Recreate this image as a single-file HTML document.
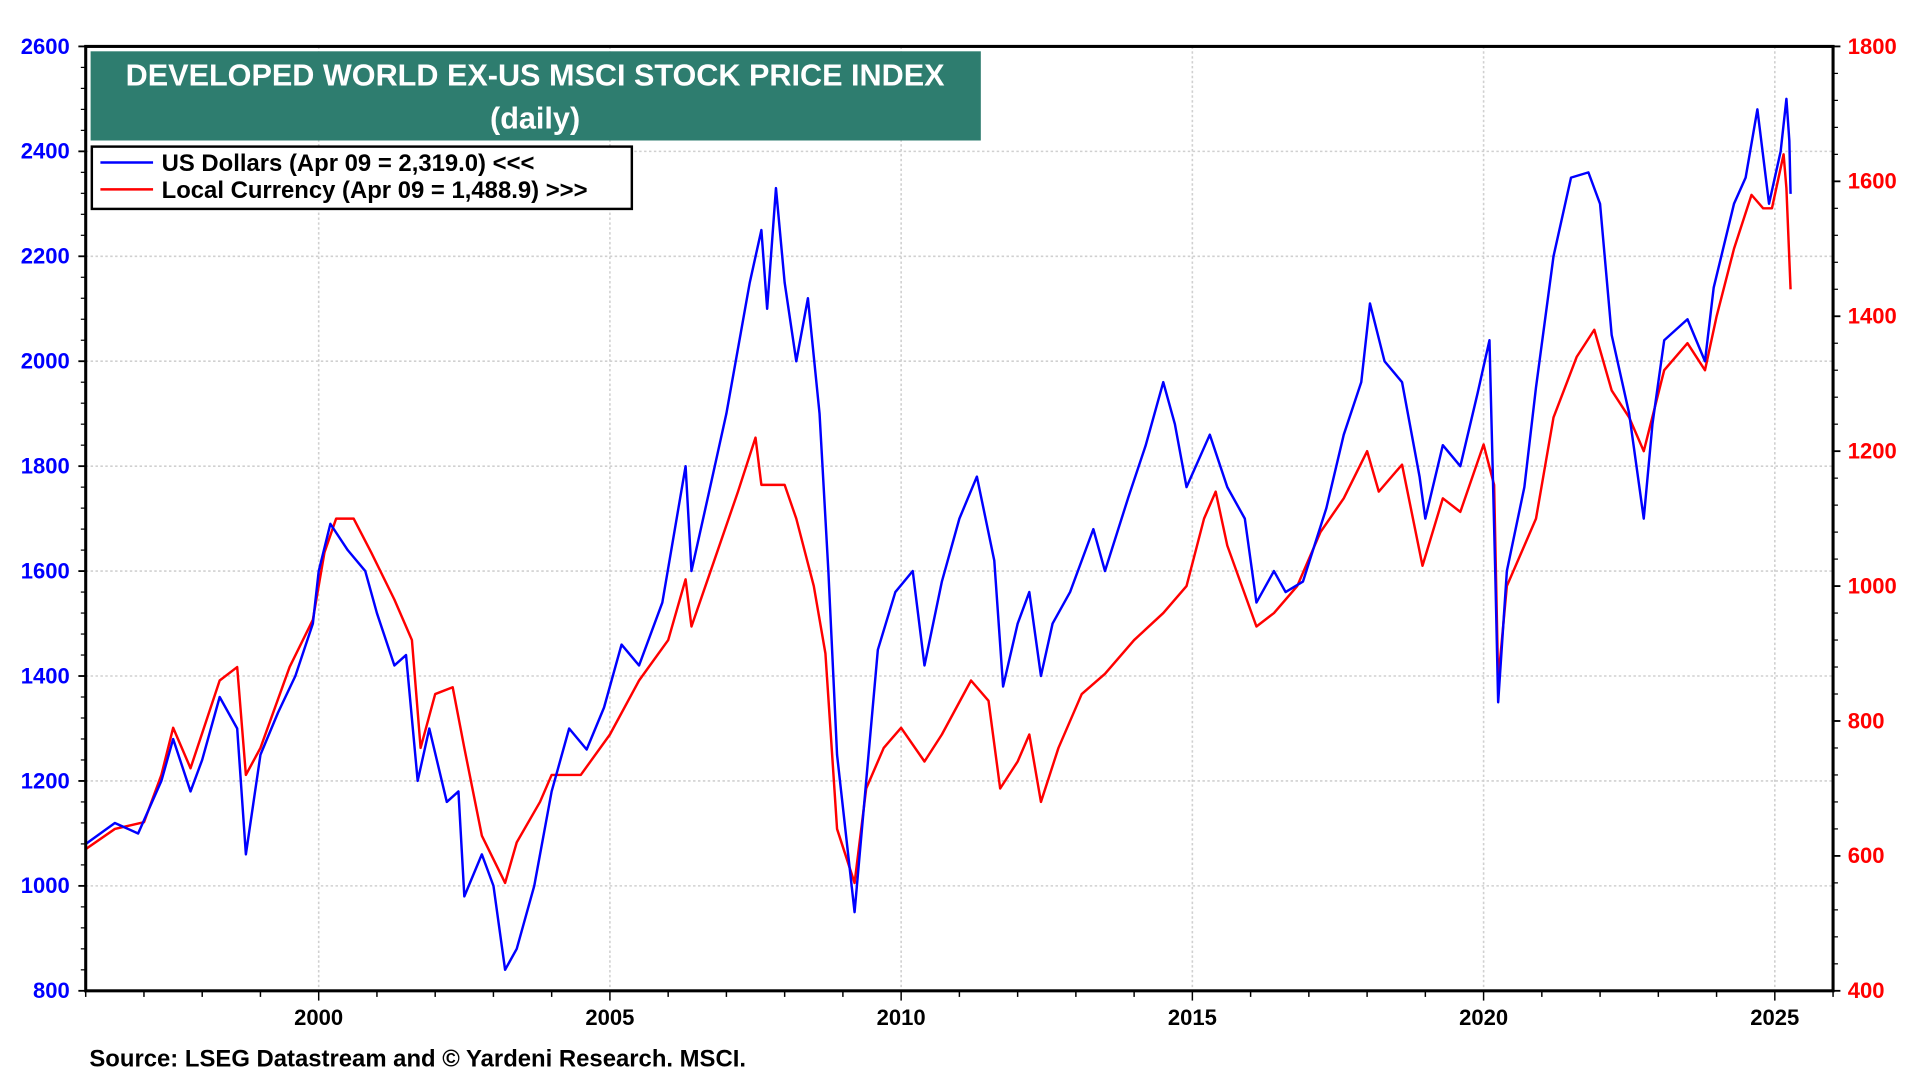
<!DOCTYPE html>
<html><head><meta charset="utf-8"><style>
html,body{margin:0;padding:0;background:#fff;}
svg{display:block;font-family:"Liberation Sans",Arial,sans-serif;}
</style></head><body>
<svg id="chart" width="1920" height="1080" viewBox="0 0 1568 884" preserveAspectRatio="none" xmlns="http://www.w3.org/2000/svg">
<g id="grid"></g>
<g id="series"></g>
<rect x="70" y="38" width="1427" height="773" fill="none" stroke="#000" stroke-width="2.5"/>
<g id="axes"></g>
<rect x="74" y="42" width="727" height="73" fill="#2e7d6f"/>
<text x="437" y="70" text-anchor="middle" fill="#fff" font-size="25" font-weight="bold">DEVELOPED WORLD EX-US MSCI STOCK PRICE INDEX</text>
<text x="437" y="105" text-anchor="middle" fill="#fff" font-size="25" font-weight="bold">(daily)</text>
<g>
<rect x="75" y="120" width="441" height="51" fill="#fff" stroke="#000" stroke-width="2"/>
<line x1="82" y1="133" x2="125" y2="133" stroke="#0000ff" stroke-width="2"/>
<text x="132" y="140" font-size="19.5" font-weight="bold">US Dollars (Apr 09 = 2,319.0) &lt;&lt;&lt;</text>
<line x1="82" y1="155" x2="125" y2="155" stroke="#ff0000" stroke-width="2"/>
<text x="132" y="162" font-size="19.5" font-weight="bold">Local Currency (Apr 09 = 1,488.9) &gt;&gt;&gt;</text>
</g>
<text x="73" y="873" font-size="19.5" font-weight="bold">Source: LSEG Datastream and © Yardeni Research. MSCI.</text>
</svg>
<script>
const usdDates=[1996.0,1996.5,1996.9,1997.3,1997.5,1997.8,1998.0,1998.3,1998.6,1998.75,1999.0,1999.3,1999.6,1999.9,2000.0,2000.2,2000.5,2000.8,2001.0,2001.3,2001.5,2001.7,2001.9,2002.2,2002.4,2002.5,2002.8,2003.0,2003.2,2003.4,2003.7,2004.0,2004.3,2004.6,2004.9,2005.2,2005.5,2005.9,2006.3,2006.4,2006.7,2007.0,2007.4,2007.6,2007.7,2007.85,2008.0,2008.2,2008.4,2008.6,2008.75,2008.9,2009.2,2009.4,2009.6,2009.9,2010.2,2010.4,2010.7,2011.0,2011.3,2011.6,2011.75,2012.0,2012.2,2012.4,2012.6,2012.9,2013.3,2013.5,2013.9,2014.2,2014.5,2014.7,2014.9,2015.3,2015.6,2015.9,2016.1,2016.4,2016.6,2016.9,2017.3,2017.6,2017.9,2018.05,2018.3,2018.6,2018.9,2019.0,2019.3,2019.6,2019.9,2020.1,2020.2,2020.25,2020.4,2020.7,2020.9,2021.2,2021.5,2021.8,2022.0,2022.2,2022.5,2022.75,2022.9,2023.1,2023.5,2023.8,2023.95,2024.3,2024.5,2024.7,2024.9,2025.1,2025.2,2025.25,2025.27];
const usdValues=[1080,1120,1100,1200,1280,1180,1240,1360,1300,1060,1250,1330,1400,1500,1600,1690,1640,1600,1520,1420,1440,1200,1300,1160,1180,980,1060,1000,840,880,1000,1180,1300,1260,1340,1460,1420,1540,1800,1600,1750,1900,2150,2250,2100,2330,2150,2000,2120,1900,1600,1250,950,1200,1450,1560,1600,1420,1580,1700,1780,1620,1380,1500,1560,1400,1500,1560,1680,1600,1740,1840,1960,1880,1760,1860,1760,1700,1540,1600,1560,1580,1720,1860,1960,2110,2000,1960,1780,1700,1840,1800,1940,2040,1600,1350,1600,1760,1950,2200,2350,2360,2300,2050,1900,1700,1880,2040,2080,2000,2140,2300,2350,2480,2300,2400,2500,2420,2319];
const localDates=[1996.0,1996.5,1997.0,1997.3,1997.5,1997.8,1998.3,1998.6,1998.75,1999.0,1999.5,1999.9,2000.1,2000.3,2000.6,2000.9,2001.3,2001.6,2001.75,2002.0,2002.3,2002.5,2002.8,2003.2,2003.4,2003.8,2004.0,2004.5,2005.0,2005.5,2006.0,2006.3,2006.4,2006.8,2007.2,2007.5,2007.6,2008.0,2008.2,2008.5,2008.7,2008.9,2009.2,2009.4,2009.7,2010.0,2010.4,2010.7,2011.2,2011.5,2011.7,2012.0,2012.2,2012.4,2012.7,2013.1,2013.5,2014.0,2014.5,2014.9,2015.2,2015.4,2015.6,2016.1,2016.4,2016.8,2017.2,2017.6,2018.0,2018.2,2018.6,2018.95,2019.3,2019.6,2020.0,2020.18,2020.25,2020.4,2020.7,2020.9,2021.2,2021.6,2021.9,2022.2,2022.5,2022.75,2023.1,2023.5,2023.8,2024.0,2024.3,2024.6,2024.8,2024.95,2025.15,2025.2,2025.27];
const localValues=[610,640,650,720,790,730,860,880,720,760,880,950,1050,1100,1100,1050,980,920,760,840,850,760,630,560,620,680,720,720,780,860,920,1010,940,1040,1140,1220,1150,1150,1100,1000,900,640,560,700,760,790,740,780,860,830,700,740,780,680,760,840,870,920,960,1000,1100,1140,1060,940,960,1000,1080,1130,1200,1140,1180,1030,1130,1110,1210,1150,860,1000,1060,1100,1250,1340,1380,1290,1250,1200,1320,1360,1320,1400,1500,1580,1560,1560,1640,1590,1440];
const leftTicks=[800,1000,1200,1400,1600,1800,2000,2200,2400,2600];
const rightTicks=[400,600,800,1000,1200,1400,1600,1800];
const yearTicks=[2000,2005,2010,2015,2020,2025];

const X0=70,X1=1497,Y0=38,Y1=811;
const xs=y=>X0+(y-1996.0)/(2026.0-1996.0)*(X1-X0);
const yl=v=>Y1-(v-800)/(2600-800)*(Y1-Y0);
const yr=v=>Y1-(v-400)/(1800-400)*(Y1-Y0);
const NS='http://www.w3.org/2000/svg';
function mk(tag,attrs,parent){const e=document.createElementNS(NS,tag);for(const k in attrs)e.setAttribute(k,attrs[k]);parent.appendChild(e);return e;}
const grid=document.getElementById('grid'),axes=document.getElementById('axes'),series=document.getElementById('series');
leftTicks.forEach(v=>{
  const g=mk('line',{x1:X0,x2:X1,y1:yl(v),y2:yl(v),stroke:'#d0d0d0','stroke-width':1.3,'stroke-dasharray':'2,2'},grid);
  
  
  const t=mk('text',{x:X0-13,y:yl(v)+6,'text-anchor':'end',fill:'#0000ff','font-size':18,'font-weight':'bold'},axes);
  t.textContent=v;
  
  
  mk('line',{x1:X0-6,x2:X0,y1:yl(v),y2:yl(v),stroke:'#000','stroke-width':1.5},axes);
});
for(let v=800;v<=2600;v+=40){mk('line',{x1:X0-4,x2:X0,y1:yl(v),y2:yl(v),stroke:'#000','stroke-width':1},axes);}
rightTicks.forEach(v=>{
  const t=mk('text',{x:X1+12,y:yr(v)+6,'text-anchor':'start',fill:'#ff0000','font-size':18,'font-weight':'bold'},axes);
  t.textContent=v;
  
  
  mk('line',{x1:X1,x2:X1+6,y1:yr(v),y2:yr(v),stroke:'#000','stroke-width':1.5},axes);
});
for(let v=400;v<=1800;v+=40){mk('line',{x1:X1,x2:X1+4,y1:yr(v),y2:yr(v),stroke:'#000','stroke-width':1},axes);}
yearTicks.forEach(y=>{
  const g=mk('line',{x1:xs(y),x2:xs(y),y1:Y0,y2:Y1,stroke:'#d0d0d0','stroke-width':1.3,'stroke-dasharray':'2,2'},grid);
  
  
  const t=mk('text',{x:xs(y),y:Y1+28,'text-anchor':'middle',fill:'#000','font-size':18,'font-weight':'bold'},axes);
  t.textContent=y;
  
  
});
for(let y=1996;y<=2026;y++){mk('line',{x1:xs(y),x2:xs(y),y1:Y1,y2:Y1+(y%5===0?8:5),stroke:'#000','stroke-width':1.2},axes);}
function line(d,v,fy,color,name){
  const p=mk('polyline',{points:d.map((x,i)=>xs(x).toFixed(1)+','+fy(v[i]).toFixed(1)).join(' '),fill:'none',stroke:color,'stroke-width':2,'stroke-linejoin':'round'},series);
  
  
}
line(localDates,localValues,yr,'#ff0000','local-currency-line');
line(usdDates,usdValues,yl,'#0000ff','us-dollars-line');
</script>
</body></html>
